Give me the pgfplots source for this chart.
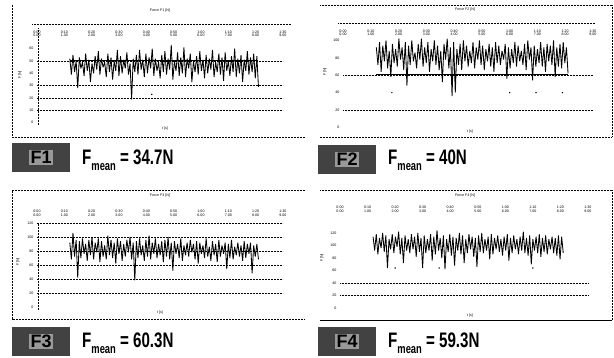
\documentclass[border=0pt]{standalone}
\usepackage{fontspec}
\setmainfont{Liberation Sans}
\usepackage{pgfplots}
\pgfplotsset{compat=1.18}
\usepackage{pgfplotstable}
\usepackage{graphicx}

\pgfplotstableread[row sep=\\]{
y\\
5.2\\3.9\\5.5\\4.1\\5.0\\2.8\\5.3\\4.4\\4.9\\3.8\\
5.6\\4.2\\5.1\\3.3\\4.8\\4.0\\5.4\\4.3\\5.8\\3.9\\
5.2\\4.5\\4.9\\3.7\\5.6\\4.1\\5.3\\3.5\\5.0\\4.2\\
5.9\\3.8\\5.4\\4.0\\5.1\\4.4\\5.7\\3.9\\4.8\\1.9\\
5.2\\4.1\\5.5\\3.9\\5.9\\4.3\\5.1\\3.7\\5.6\\4.0\\
5.3\\4.4\\6.0\\3.8\\5.2\\4.2\\4.9\\3.6\\5.5\\4.1\\
5.8\\3.9\\5.2\\4.3\\6.3\\3.5\\5.0\\4.2\\5.7\\3.8\\
5.3\\4.0\\6.1\\3.7\\5.2\\4.4\\5.6\\3.3\\5.0\\4.1\\
5.4\\3.9\\5.8\\4.2\\5.1\\3.6\\5.5\\4.0\\5.2\\4.3\\
5.9\\3.7\\4.9\\4.1\\5.6\\3.9\\5.3\\3.4\\5.7\\4.2\\
5.0\\3.8\\5.4\\4.1\\6.0\\3.7\\5.2\\4.0\\5.5\\3.3\\
5.1\\4.2\\5.8\\3.9\\5.3\\4.1\\5.6\\3.6\\5.4\\2.9\\
}\dataA

\pgfplotstableread[row sep=\\]{
y\\
4.6\\3.6\\4.9\\3.2\\4.7\\3.8\\5.0\\3.4\\4.4\\2.9\\
4.8\\3.7\\4.5\\3.5\\5.1\\3.9\\4.6\\3.3\\4.9\\2.4\\
4.7\\3.6\\5.0\\3.8\\4.3\\3.4\\4.8\\3.9\\5.1\\3.5\\
4.6\\3.7\\4.9\\3.2\\4.5\\3.8\\5.0\\3.6\\4.7\\3.3\\
4.4\\2.6\\4.8\\3.9\\5.1\\3.4\\4.6\\1.8\\4.9\\2.0\\
4.5\\3.6\\4.8\\3.3\\5.0\\3.8\\4.7\\3.5\\4.4\\3.7\\
4.9\\3.4\\4.6\\3.9\\5.0\\3.6\\4.7\\3.3\\4.5\\3.8\\
4.8\\3.5\\4.6\\3.2\\4.9\\3.7\\4.7\\3.6\\4.4\\3.9\\
4.8\\2.8\\4.6\\3.4\\4.5\\3.7\\4.9\\3.5\\4.7\\3.8\\
4.4\\3.6\\4.8\\3.3\\5.0\\3.9\\4.6\\2.7\\4.7\\3.5\\
4.5\\3.7\\4.9\\3.5\\4.6\\3.2\\4.8\\3.8\\4.7\\3.6\\
5.0\\2.9\\4.6\\3.5\\4.8\\3.4\\4.9\\3.7\\4.6\\3.1\\
}\dataB

\pgfplotstableread[row sep=\\]{
y\\
4.6\\3.4\\5.3\\3.6\\4.8\\2.1\\4.7\\3.5\\4.9\\3.8\\
4.5\\3.3\\4.8\\3.7\\5.0\\3.4\\4.6\\3.9\\4.9\\3.2\\
4.7\\3.6\\4.4\\3.4\\5.1\\3.7\\4.8\\3.5\\4.6\\3.1\\
4.9\\3.8\\4.7\\3.3\\4.5\\3.6\\4.8\\3.9\\5.0\\3.4\\
4.6\\1.9\\4.7\\3.5\\4.9\\3.7\\4.4\\3.3\\4.8\\3.6\\
5.1\\3.4\\4.6\\3.8\\4.9\\3.5\\4.5\\3.7\\4.7\\3.2\\
4.8\\3.6\\5.0\\3.4\\4.6\\2.6\\4.7\\3.8\\4.5\\3.5\\
4.9\\3.3\\4.4\\3.7\\4.6\\3.6\\4.8\\3.9\\4.5\\3.4\\
4.7\\3.1\\4.6\\3.8\\4.4\\3.5\\4.9\\3.6\\4.3\\3.3\\
4.7\\3.7\\4.5\\3.2\\4.8\\3.6\\4.4\\3.8\\4.6\\2.7\\
4.5\\3.5\\4.8\\3.4\\4.3\\3.7\\4.6\\3.6\\4.4\\3.3\\
4.7\\3.5\\4.5\\3.8\\4.6\\2.4\\4.4\\3.6\\4.5\\3.4\\
}\dataC

\pgfplotstableread[row sep=\\]{
y\\
5.7\\4.6\\5.9\\4.3\\5.6\\4.8\\6.0\\4.5\\5.8\\3.2\\
5.5\\4.7\\5.9\\4.4\\5.7\\4.9\\6.1\\4.3\\5.6\\3.6\\
5.8\\4.6\\5.5\\4.4\\5.9\\4.7\\5.7\\4.1\\6.0\\4.5\\
5.6\\3.2\\5.8\\4.4\\5.5\\4.6\\5.9\\3.8\\5.7\\4.3\\
6.2\\4.6\\5.6\\4.0\\5.8\\3.1\\5.5\\4.5\\5.9\\4.2\\
5.7\\3.4\\5.6\\4.6\\6.0\\4.3\\5.8\\3.6\\5.5\\4.4\\
5.9\\4.7\\5.7\\4.1\\5.6\\3.3\\5.8\\4.5\\6.0\\4.4\\
5.5\\4.6\\5.7\\3.9\\5.9\\4.3\\5.6\\4.7\\5.8\\4.5\\
5.5\\4.2\\5.7\\4.6\\5.9\\3.8\\5.6\\4.4\\5.8\\4.7\\
5.5\\4.3\\5.7\\4.6\\6.1\\4.4\\5.6\\4.2\\5.8\\3.5\\
5.5\\4.6\\5.7\\4.4\\5.9\\4.1\\5.6\\4.5\\5.8\\4.3\\
5.5\\4.7\\5.7\\4.4\\5.6\\4.2\\5.8\\3.9\\5.7\\4.4\\
}\dataD

\tikzset{gdot/.style={dash pattern=on 0.6pt off 0.9pt, line width=0.6pt, black}}
\newcommand{\tinyf}{\fontsize{3.6}{3.9}\selectfont}

\pgfplotsset{
  panel/.style={
    scale only axis, anchor=north west,
    xmin=0, xmax=9, xtick={0,...,9},
    xticklabels={{0:00\\0.00},{0:10\\1.00},{0:20\\2.00},{0:30\\3.00},{0:40\\4.00},{0:50\\5.00},{1:00\\6.00},{1:10\\7.00},{1:20\\8.00},{1:30\\9.00}},
    xticklabel pos=upper,
    tick label style={font=\tinyf, align=center},
    major tick length=0pt,
    axis line style={draw=none},
    major grid style={gdot},
    /pgf/number format/assume math mode=true,
    clip=false,
  },
  sig/.style={black, line width=0.85pt, line join=miter, miter limit=2},
}

\newcommand{\labelbox}[2]{\node[anchor=north west, fill=black!74, minimum width=58pt, minimum height=29pt, inner sep=0pt] at (#1) {{\setlength{\fboxsep}{1.2pt}\colorbox{black!40}{\fontsize{18}{18}\selectfont\bfseries #2}}};}
\newcommand{\fmean}[2]{\node[anchor=west, inner sep=0pt] at (#1) {\scalebox{0.72}[1]{\fontsize{21}{21}\selectfont\bfseries F\raisebox{-0.5ex}{\fontsize{13}{13}\selectfont mean} = #2}};}

\begin{document}
\begin{tikzpicture}
\path[use as bounding box] (0pt,0pt) rectangle (614pt,-358pt);

% ---------- Panel 1 ----------
\draw[gdot] (12pt,-5pt) -- (12pt,-137pt) -- (305pt,-137pt);
\node[font=\tinyf] at (160pt,-11pt) {Force F1 [N]};
\node[font=\tinyf] at (165pt,-129pt) {t [s]};
\node[font=\tinyf, rotate=90] at (20pt,-75pt) {F [N]};
\begin{axis}[panel, at={(37pt,-24pt)}, width=246pt, height=100.6pt,
  ymin=-0.15, ymax=8, ytick={0,...,6}, yticklabels={0,10,20,30,40,50,60},
  xticklabel style={anchor=north, yshift=-3pt},
  extra y ticks={1,2,3,5}, extra y tick labels={}, extra y tick style={grid=major}]
\draw[gdot] (rel axis cs:-0.02,1) -- (rel axis cs:1.03,1);
\draw[gdot] (rel axis cs:0.004,0) -- (rel axis cs:0.004,0.96);
\addplot[sig] table[x expr={1.2+\coordindex*0.058}, y=y] {\dataA};
\addplot[black, line width=0.9pt] coordinates {(1.2,5.05)(8.1,5.05)};
\addplot[only marks, mark=*, mark size=0.45pt, black] coordinates {(4.2,2.3)};
\end{axis}
\labelbox{12pt,-143pt}{F1}
\fmean{82pt,-160pt}{34.7N}

% ---------- Panel 2 ----------
\draw[gdot] (320pt,-5pt) -- (612pt,-5pt) -- (612pt,-137pt) -- (320pt,-137pt);
\node[font=\tinyf] at (465pt,-10pt) {Force F2 [N]};
\node[font=\tinyf] at (470pt,-132pt) {t [s]};
\node[font=\tinyf, rotate=90] at (325pt,-72pt) {F [N]};
\begin{axis}[panel, at={(343pt,-23pt)}, width=250pt, height=107.4pt,
  ymin=-0.17, ymax=6, ytick={0,...,5}, yticklabels={0,20,40,60,80,100},
  xticklabel style={anchor=north, yshift=-3pt},
  extra y ticks={1,3}, extra y tick labels={}, extra y tick style={grid=major}]
\draw[gdot] (rel axis cs:-0.02,1) -- (rel axis cs:1.01,1);
\addplot[sig] table[x expr={1.2+\coordindex*0.058}, y=y] {\dataB};
\addplot[black, line width=0.9pt] coordinates {(1.2,3.05)(8.1,3.05)};
\addplot[only marks, mark=*, mark size=0.45pt, black] coordinates {(1.76,2.0)(6.0,2.0)(6.95,2.0)(7.9,2.0)};
\end{axis}
\labelbox{318pt,-145pt}{F2}
\fmean{388pt,-160pt}{40N}

% ---------- Panel 3 ----------
\draw[gdot] (305pt,-190pt) -- (12pt,-190pt) -- (12pt,-319pt) -- (305pt,-319pt);
\node[font=\tinyf] at (160pt,-196pt) {Force F3 [N]};
\node[font=\tinyf] at (160pt,-313pt) {t [s]};
\node[font=\tinyf, rotate=90] at (18pt,-262pt) {F [N]};
\begin{axis}[panel, at={(37pt,-223pt)}, width=246pt, height=86.8pt,
  ymin=-0.2, ymax=6, ytick={0,...,6}, yticklabels={0,20,40,60,80,100,120},
  xticklabel style={anchor=south, yshift=3pt},
  extra y ticks={1,2,3,4,5,6}, extra y tick labels={}, extra y tick style={grid=major}]
\draw[gdot] (rel axis cs:0.004,0) -- (rel axis cs:0.004,1);
\addplot[sig] table[x expr={1.2+\coordindex*0.058}, y=y] {\dataC};
\end{axis}
\labelbox{12pt,-327pt}{F3}
\fmean{82pt,-343pt}{60.3N}

% ---------- Panel 4 ----------
\draw[gdot] (320pt,-190pt) -- (612pt,-190pt) -- (612pt,-320pt);
\draw[black, line width=0.6pt, dash pattern=on 1.5pt off 0.5pt] (320pt,-320pt) -- (612pt,-320pt);
\node[font=\tinyf] at (465pt,-196pt) {Force F4 [N]};
\node[font=\tinyf] at (470pt,-316pt) {t [s]};
\node[font=\tinyf, rotate=90] at (322pt,-258pt) {F [N]};
\begin{axis}[panel, at={(340pt,-223pt)}, width=248pt, height=87.5pt,
  ymin=-0.2, ymax=6.8, ytick={0,...,6}, yticklabels={0,20,40,60,80,100,120},
  xticklabel style={anchor=south, yshift=7pt},
  extra y ticks={1,2}, extra y tick labels={}, extra y tick style={grid=major}]
\addplot[sig] table[x expr={1.2+\coordindex*0.058}, y=y] {\dataD};
\addplot[only marks, mark=*, mark size=0.45pt, black] coordinates {(2.0,3.2)(3.6,3.2)(7.0,3.2)};
\end{axis}
\labelbox{318pt,-327pt}{F4}
\fmean{388pt,-343pt}{59.3N}
\end{tikzpicture}
\end{document}
